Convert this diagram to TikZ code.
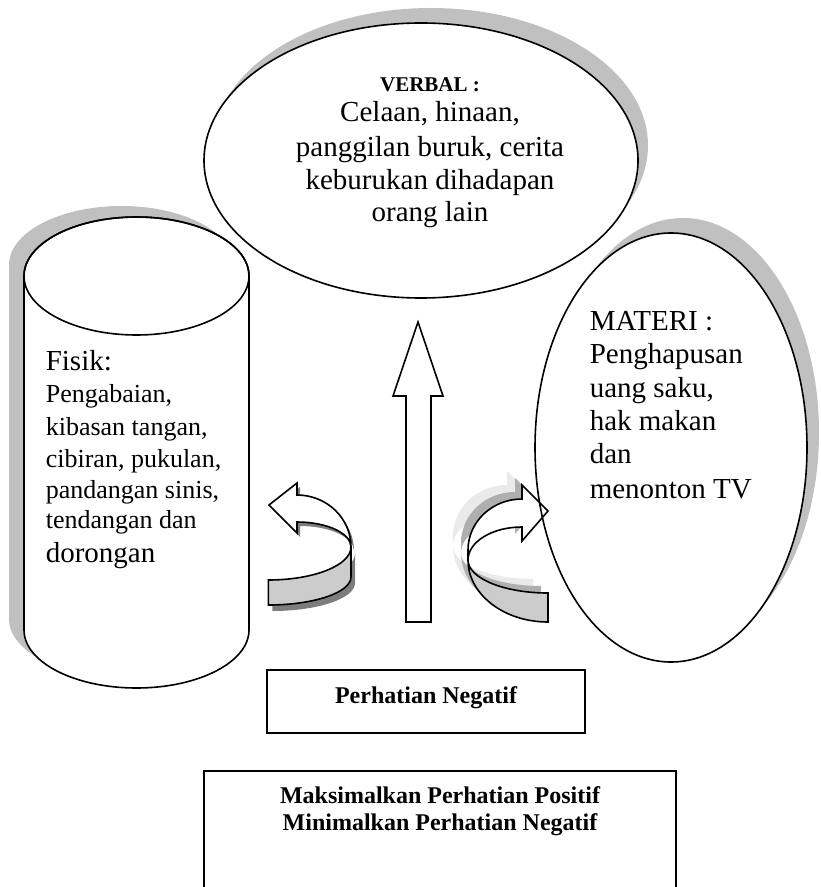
\documentclass[tikz,border=0pt]{standalone}
\usepackage{fontspec}
\setmainfont{Liberation Serif}

\definecolor{shadowgray}{RGB}{192,192,192}
\definecolor{bandgray}{RGB}{204,204,204}
\definecolor{darkshadow}{RGB}{125,125,125}
\definecolor{ghostlight}{RGB}{234,234,234}
\definecolor{ghostmid}{RGB}{175,175,175}

\tikzset{every picture/.style={line width=1.2pt}}
\tikzset{
  bigtext/.style={font=\fontsize{21.75}{24.75}\selectfont},
  listtext/.style={font=\fontsize{19.5}{24}\selectfont},
  smallbold/.style={font=\fontsize{15.75}{18}\selectfont\bfseries},
  boxtext/.style={font=\fontsize{18}{20}\selectfont\bfseries},
}

% curved arrow pieces (left one points left, right one points right)
\newcommand{\leftcurlhead}{(269,505) -- (297,483) -- (297,495) arc[start angle=-90,end angle=0,x radius=54,y radius=52] arc[start angle=0,end angle=-90,x radius=54,y radius=25] -- (297,533) -- cycle}
\newcommand{\leftcurlband}{(351,547) arc[start angle=0,end angle=90,x radius=82.7,y radius=33] -- (268.3,605) arc[start angle=90,end angle=0,x radius=82.7,y radius=28] -- cycle}
\newcommand{\rightcurlhead}{(548,511) -- (522,485) -- (522,499) arc[start angle=-90,end angle=-180,x radius=54,y radius=51] -- (468,560) arc[start angle=180,end angle=270,x radius=54,y radius=33] -- (522,541) -- cycle}
\newcommand{\rightcurlband}{(468,560) arc[start angle=180,end angle=90,x radius=80,y radius=33] -- (548,622) arc[start angle=90,end angle=180,x radius=80,y radius=62] -- cycle}

\begin{document}
\begin{tikzpicture}[x=0.75pt,y=0.75pt,yscale=-1,xscale=1]
\useasboundingbox (0,0) rectangle (820,887);
\clip (0,0) rectangle (820,887);

%Shape: Ellipse [verbal]
\fill [shadowgray] (431,145.5) ellipse [x radius=217,y radius=137.5];
\draw [fill=white] (421,160.5) ellipse [x radius=217,y radius=137.5];

%Shape: Can [fisik]
\fill [shadowgray,shift={(-15,-11)}] (24,276) -- (24,630) arc[start angle=180,end angle=0,x radius=112.5,y radius=58] -- (249,276) arc[start angle=0,end angle=-180,x radius=112.5,y radius=59] -- cycle;
\draw [fill=white] (24,276) -- (24,630) arc[start angle=180,end angle=0,x radius=112.5,y radius=58] -- (249,276) arc[start angle=0,end angle=-180,x radius=112.5,y radius=59] -- cycle;
\draw (136.5,276) ellipse [x radius=112.5,y radius=59];

%Shape: Ellipse [materi]
\fill [shadowgray] (683,432.5) ellipse [x radius=136,y radius=214.5];
\fill [white] (671,447.5) ellipse [x radius=136,y radius=214.5];

%Shape: Up Arrow
\draw [fill=white] (406,622) -- (406,396) -- (393,396) -- (418,322) -- (443,396) -- (431,396) -- (431,622) -- cycle;

%Shape: Curved Arrow [left]
\fill [darkshadow,shift={(4,6)}] \leftcurlband;
\fill [darkshadow,shift={(3,4)}] \leftcurlhead;
\draw [fill=bandgray] \leftcurlband;
\draw [fill=white] \leftcurlhead;

%Shape: Curved Arrow [right]
\fill [ghostlight,shift={(-15,-14)}] \rightcurlband;
\fill [ghostlight,shift={(-15,-14)}] \rightcurlhead;
\fill [ghostmid,shift={(-7,-7)}] \rightcurlband;
\fill [ghostmid,shift={(-7,-7)}] \rightcurlhead;
\draw [fill=bandgray] \rightcurlband;
\draw [fill=white] \rightcurlhead;

%outline of materi over the arrow tip
\draw (671,447.5) ellipse [x radius=136,y radius=214.5];

%Shape: Rectangle [negatif]
\draw [line width=1.5pt] (267,670) rectangle (585,733);
%Shape: Rectangle [maksimal]
\draw [line width=1.5pt] (204,900) -- (204,771) -- (676,771) -- (676,900);

% Text Node
\draw (430,92) node [anchor=base,smallbold] (verbalhead) {VERBAL :};
% Text Node
\draw (430,122) node [anchor=base,bigtext] (verbalone) {Celaan, hinaan,};
% Text Node
\draw (430,157) node [anchor=base,bigtext] (verbaltwo) {panggilan buruk, cerita};
% Text Node
\draw (430,190) node [anchor=base,bigtext] (verbalthree) {keburukan dihadapan};
% Text Node
\draw (430,222) node [anchor=base,bigtext] (verbalfour) {orang lain};

% Text Node
\draw (45,370) node [anchor=base west,bigtext,inner xsep=0pt] (fisikhead) {Fisik:};
% Text Node
\draw (45,402) node [anchor=base west,listtext,inner xsep=0pt] (fisikone) {Pengabaian,};
% Text Node
\draw (45,435) node [anchor=base west,listtext,inner xsep=0pt] (fisiktwo) {kibasan tangan,};
% Text Node
\draw (45,467) node [anchor=base west,listtext,inner xsep=0pt] (fisikthree) {cibiran, pukulan,};
% Text Node
\draw (45,498) node [anchor=base west,listtext,inner xsep=0pt] (fisikfour) {pandangan sinis,};
% Text Node
\draw (45,528) node [anchor=base west,listtext,inner xsep=0pt] (fisikfive) {tendangan dan};
% Text Node
\draw (45,562) node [anchor=base west,bigtext,inner xsep=0pt] (fisiksix) {dorongan};

% Text Node
\draw (589,330) node [anchor=base west,bigtext,inner xsep=0pt] (materihead) {MATERI :};
% Text Node
\draw (589,363) node [anchor=base west,bigtext,inner xsep=0pt] (materione) {Penghapusan};
% Text Node
\draw (589,397) node [anchor=base west,bigtext,inner xsep=0pt] (materitwo) {uang saku,};
% Text Node
\draw (589,430) node [anchor=base west,bigtext,inner xsep=0pt] (materithree) {hak makan};
% Text Node
\draw (589,463) node [anchor=base west,bigtext,inner xsep=0pt] (materifour) {dan};
% Text Node
\draw (589,498) node [anchor=base west,bigtext,inner xsep=0pt] (materifive) {menonton TV};

% Text Node
\draw (426,703) node [anchor=base,boxtext] (negatiflabel) {Perhatian Negatif};
% Text Node
\draw (440,803) node [anchor=base,boxtext] (maksone) {Maksimalkan Perhatian Positif};
% Text Node
\draw (440,830) node [anchor=base,boxtext] (makstwo) {Minimalkan Perhatian Negatif};

\end{tikzpicture}
\end{document}
